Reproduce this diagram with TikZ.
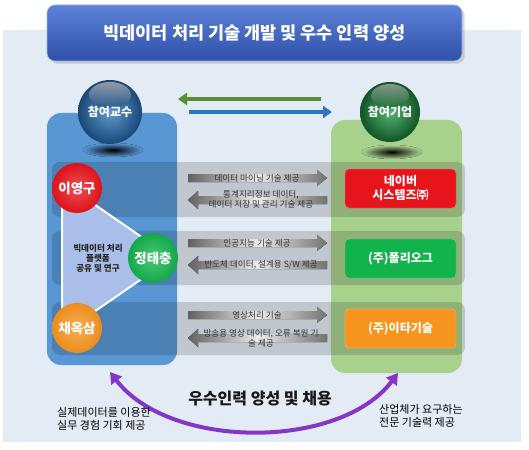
\documentclass[tikz,border=0pt]{standalone}
\usepackage{fontspec}
\setmainfont{Noto Sans CJK KR}
\usetikzlibrary{shadows,arrows.meta}
\definecolor{bgpanel}{HTML}{E3EBF4}
\definecolor{titletop}{HTML}{5E82D8}
\definecolor{titlebot}{HTML}{2E50A8}
\definecolor{bluepanel}{HTML}{5897D4}
\definecolor{greenpanel}{HTML}{A9D18E}
\definecolor{cred}{HTML}{E8141B}
\definecolor{cgreen}{HTML}{12B24C}
\definecolor{corange}{HTML}{F7941D}
\definecolor{tri}{HTML}{A9BEE8}
\definecolor{arrgreen}{HTML}{5A8E32}
\definecolor{arrblue}{HTML}{2E75C0}
\definecolor{sblue}{HTML}{2A78C4}
\definecolor{sgreen}{HTML}{1C9A44}
\definecolor{cpurple}{HTML}{8536C8}
\tikzset{
  panelbox/.style={rounded corners=14pt, minimum width=#1, inner sep=0pt},
  rowband/.style={fill=black, fill opacity=0.15, rounded corners=8pt},
  sphere/.style={circle, minimum size=64pt, inner sep=0pt, text=white, font=\bfseries\fontsize{12}{13}\selectfont},
  shine/.style={top color=white, bottom color=white, fill opacity=0.35},
  person/.style={circle, minimum size=50pt, inner sep=0pt, text=white, font=\bfseries\fontsize{13.5}{14}\selectfont},
  company/.style={rounded corners=4pt, minimum width=111pt, minimum height=39pt, inner sep=0pt, text=white, align=center, font=\bfseries\fontsize{12}{14}\selectfont},
  arrtext/.style={font=\fontsize{8.6}{9.6}\selectfont, text=black!80, align=center, inner sep=0pt},
  rarrow/.style={left color=black!62, right color=black!55, middle color=black!8},
  flowarrow/.style={line width=4pt, -{Triangle[length=9pt,width=12pt]}},
  botlabel/.style={font=\fontsize{11}{13}\selectfont, align=left, anchor=west, inner sep=0pt}
}
\begin{document}
\begin{tikzpicture}[x=1pt,y=-1pt]
\useasboundingbox (0,0) rectangle (529,449);
\fill[white] (0,0) rectangle (529,449);
% background panel
\fill[bgpanel] (3,30) rectangle (521,442);
% title
\node[rounded corners=8pt, minimum width=415pt, minimum height=56pt, top color=titletop, bottom color=titlebot, draw=titletop!60!white, line width=0.6pt, drop shadow={opacity=0.3}, text=white, font=\bfseries\fontsize{17.5}{19}\selectfont] (title) at (254.5,33) {빅데이터 처리 기술 개발 및 우수 인력 양성};
% side panels
\node[panelbox=130pt, minimum height=252pt, fill=bluepanel] (lp) at (112,239) {};
\node[panelbox=131pt, minimum height=253pt, fill=greenpanel] (rp) at (396.5,246.5) {};
% row bands
\fill[rowband] (52,162) rectangle (465,217);
\fill[rowband] (52,231) rectangle (465,285);
\fill[rowband] (52,302) rectangle (465,355);
% sphere shadows
\fill[inner color=black, outer color=bluepanel] (113,150) ellipse [x radius=30pt, y radius=7pt];
\fill[inner color=black, outer color=greenpanel] (392,152) ellipse [x radius=30pt, y radius=7pt];
% spheres
\node[sphere, inner color=sblue!75!white, outer color=sblue!60!black] (prof) at (110,112) {};
\fill[top color=white, bottom color=sblue, fill opacity=0.55] (110,95) ellipse [x radius=21pt, y radius=13pt];
\node[text=white, font=\bfseries\fontsize{12}{13}\selectfont] (proft) at (prof.center) {참여교수};
\node[sphere, minimum size=60pt, inner color=sgreen!75!white, outer color=sgreen!55!black] (corp) at (390,112) {};
\fill[top color=white, bottom color=sgreen, fill opacity=0.5] (390,96) ellipse [x radius=19pt, y radius=12pt];
\node[text=white, font=\bfseries\fontsize{12}{13}\selectfont] (corpt) at (corp.center) {참여기업};
% top arrows
\coordinate (ga1) at (321,99); \coordinate (ga2) at (178,99);
\coordinate (ba1) at (189,112); \coordinate (ba2) at (332,112);
\draw[flowarrow, arrgreen] (ga1) -- (ga2);
\draw[flowarrow, arrblue] (ba1) -- (ba2);
% triangle
\fill[tri, draw=white, line width=2pt, line join=round] (62,182) -- (172,258) -- (62,334) -- cycle;
\node[font=\bfseries\fontsize{8.6}{10}\selectfont, align=center, text=black!85] (tritext) at (98,258) {빅데이터 처리\\플랫폼\\공유 및 연구};
% people
\node[person, inner color=cred!75!white, outer color=cred!95!black] (p1) at (77,188) {이영구};
\node[person, inner color=cgreen!75!white, outer color=cgreen!95!black] (p2) at (153,258) {정태충};
\node[person, inner color=corange!75!white, outer color=corange!95!black] (p3) at (77,328) {채옥삼};
% middle arrows
\foreach \yc in {178,243,315} {
  \fill[rarrow] (188,\yc-4) -- (317,\yc-4) -- (317,\yc-8) -- (327,\yc) -- (317,\yc+8) -- (317,\yc+4) -- (188,\yc+4) -- cycle;
}
\foreach \yc in {200,265,338} {
  \fill[rarrow] (327,\yc-4) -- (198,\yc-4) -- (198,\yc-9) -- (188,\yc) -- (198,\yc+9) -- (198,\yc+4) -- (327,\yc+4) -- cycle;
}
\node[arrtext] (t1a) at (257,178) {데이터 마이닝 기술 제공};
\node[arrtext] (t1b) at (261,199) {통계지리정보 데이터,\\데이터 저장 및 관리 기술 제공};
\node[arrtext] (t2a) at (257,243) {인공지능 기술 제공};
\node[arrtext] (t2b) at (261,265) {반도체 데이터, 설계용 S/W 제공};
\node[arrtext] (t3a) at (257,315) {영상처리 기술};
\node[arrtext] (t3b) at (261,338) {방송용 영상 데이터, 오류 복원 기\\술 제공};
% companies
\node[company, fill=cred, draw=cred!60!white] (c1) at (400.5,188.5) {네이버\\시스템즈㈜};
\node[company, fill=cgreen, draw=cgreen!60!white] (c2) at (400.5,258.5) {(주)폴리오그};
\node[company, fill=corange, draw=corange!60!white] (c3) at (400.5,328.5) {(주)이타기술};
% bottom arc
\coordinate (pl) at (110,372); \coordinate (pr) at (398,373);
\draw[cpurple, line width=4pt, {Triangle[length=11pt,width=13pt]}-{Triangle[length=11pt,width=13pt]}] (pl) .. controls (170,450) and (340,450) .. (pr);
\node[font=\bfseries\fontsize{16}{18}\selectfont, text=black!90] (rec) at (260,399) {우수인력 양성 및 채용};
\node[botlabel] (bl) at (57,419) {실제데이터를 이용한\\실무 경험 기회 제공};
\node[botlabel] (br) at (379,416) {산업체가 요구하는\\전문 기술력 제공};
\end{tikzpicture}
\end{document}
